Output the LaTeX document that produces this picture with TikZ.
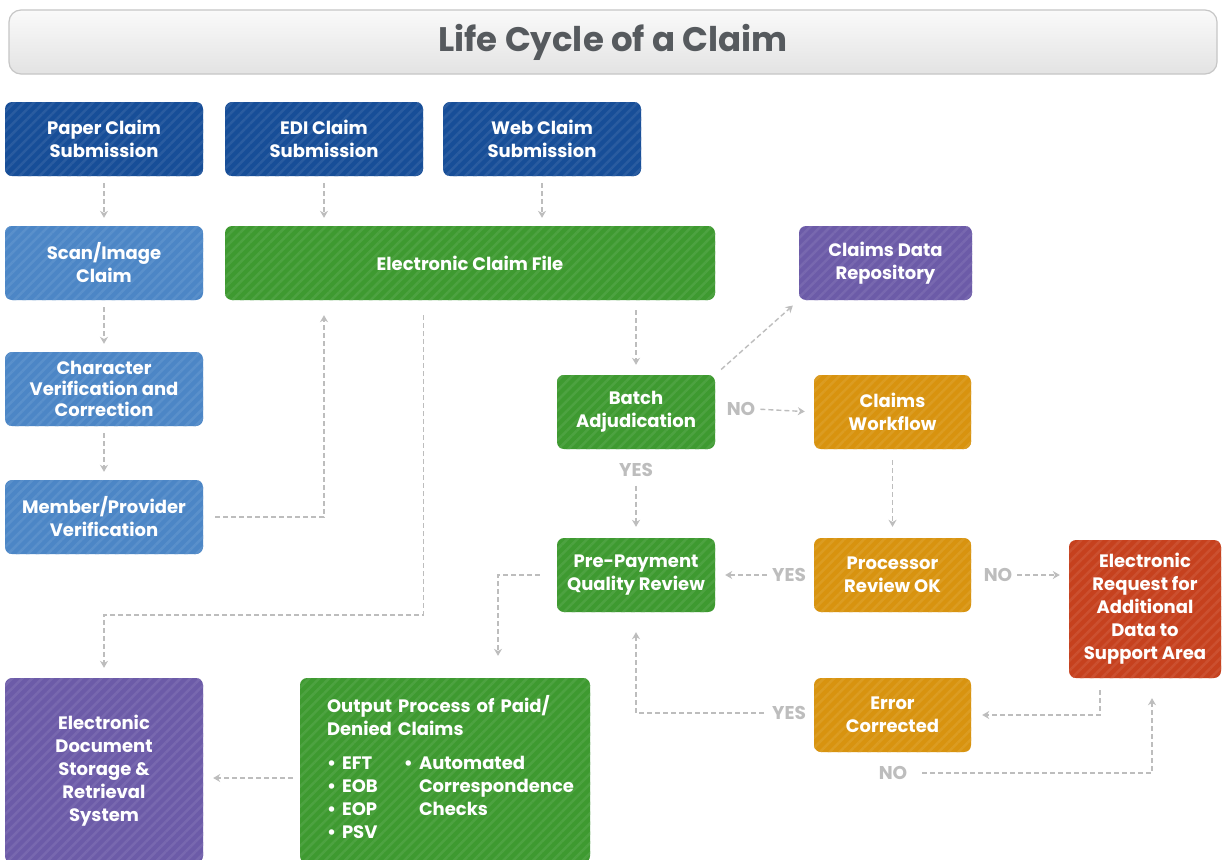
\documentclass[tikz,border=0pt]{standalone}
\usepackage{fontspec}
\setmainfont{Poppins}
\usetikzlibrary{arrows.meta,positioning,calc,patterns.meta}
\definecolor{dkblue}{HTML}{174E98}
\definecolor{ltblue}{HTML}{4C86C6}
\definecolor{grn}{HTML}{3E9A30}
\definecolor{prpl}{HTML}{6C5BA8}
\definecolor{orng}{HTML}{D8930F}
\definecolor{rd}{HTML}{C6411E}
\definecolor{ln}{HTML}{BDBDBD}
\definecolor{ttl}{HTML}{565A5E}
\tikzset{
  box/.style={rounded corners=7pt,text=white,align=center,inner sep=2pt,
    minimum width=198pt,minimum height=74pt,fill=#1,
    postaction={pattern={Lines[angle=45,distance=7pt,line width=2.5pt]},pattern color=#1!92!white}},
  dbox/.style={box=dkblue},
  lbox/.style={box=ltblue},
  gbox/.style={box=grn},
  pbox/.style={box=prpl},
  obox/.style={box=orng},
  rbox/.style={box=rd},
  lbl/.style={text=ln,inner sep=0pt,font=\bfseries\fontsize{18.5}{20}\selectfont},
  ar/.style={-{Stealth[length=7pt,width=8pt]},draw=ln,line width=1.4pt,
    dash pattern=on 5pt off 3pt,shorten <=7pt,shorten >=8pt},
  ttlbar/.style={rounded corners=12pt,draw=gray!45,line width=1.2pt,
    top color=gray!4,bottom color=gray!22,minimum width=1208pt,minimum height=64pt,
    text=ttl,font=\bfseries\fontsize{34}{40}\selectfont},
}
\begin{document}
\begin{tikzpicture}[x=1pt,y=-1pt,font=\bfseries\fontsize{18}{23}\selectfont]
\clip (0,0) rectangle (1225,859);
\fill[white] (0,0) rectangle (1225,859);
% title
\node[ttlbar] (title) at (613,42) {Life Cycle of a Claim};
% submissions
\node[dbox] (paper) at (104,139) {Paper Claim\\Submission};
\node[dbox] (edi) at (324,139) {EDI Claim\\Submission};
\node[dbox] (web) at (542,139) {Web Claim\\Submission};
% paper path
\node[lbox] (scan) at (104,263) {Scan/Image\\Claim};
\node[lbox,font=\bfseries\fontsize{18}{21}\selectfont] (cvc) at (104,389) {Character\\Verification and\\Correction};
\node[lbox] (member) at (104,517) {Member/Provider\\Verification};
% electronic path
\node[gbox,minimum width=490pt] (ecf) at (470,263) {Electronic Claim File};
\node[pbox,minimum width=173pt] (repo) at (885.5,263) {Claims Data\\Repository};
\node[gbox,minimum width=158pt] (batch) at (636,412) {Batch\\Adjudication};
\node[obox,minimum width=157pt] (flow) at (892.5,412) {Claims\\Workflow};
\node[gbox,minimum width=158pt] (qual) at (636,575) {Pre-Payment\\Quality Review};
\node[obox,minimum width=157pt] (proc) at (892.5,575) {Processor\\Review OK};
\node[rbox,minimum width=152pt,minimum height=138pt] (req) at (1145,609)
  {Electronic\\Request for\\Additional\\Data to\\Support Area};
\node[obox,minimum width=157pt] (err) at (892.5,715) {Error\\Corrected};
% output and storage
\node[pbox,minimum height=185pt] (store) at (104,770.5)
  {Electronic\\Document\\Storage \&\\Retrieval\\System};
\node[gbox,minimum height=185pt,text width=236pt,inner xsep=27pt,align=left] (out) at (445,770.5)
  {Output Process of Paid/\\Denied Claims\\[17pt]
   \begin{tabular}{@{}p{77pt}@{}l@{}}
   \textbullet{} EFT & \textbullet{} Automated\\
   \textbullet{} EOB & \hphantom{\textbullet{} }Correspondence\\
   \textbullet{} EOP & \hphantom{\textbullet{} }Checks\\
   \textbullet{} PSV &
   \end{tabular}};
% decision labels
\node[lbl] (no1) at (741,409) {NO};
\node[lbl] (yes1) at (636,470) {YES};
\node[lbl] (yes2) at (789,575) {YES};
\node[lbl] (no2) at (998,575) {NO};
\node[lbl] (yes3) at (789,713) {YES};
\node[lbl] (no3) at (893,773) {NO};
% connectors
\draw[ar] (paper) -- (scan);
\draw[ar] (scan) -- (cvc);
\draw[ar] (cvc) -- (member);
\draw[ar] (edi.south) -- (edi.south |- ecf.north);
\draw[ar] (web.south) -- (web.south |- ecf.north);
\draw[ar,shorten <=12pt,shorten >=15pt] (member.east) -| (edi.south |- ecf.south);
\coordinate (drop) at (0,615);
\draw[ar,shorten <=15pt,shorten >=10pt] (edi.east |- ecf.south) -- (edi.east |- drop) -| (store.north);
\draw[ar,shorten <=10pt,shorten >=10pt] (batch.north |- ecf.south) -- (batch.north);
\draw[ar,shorten <=8pt] (batch.north east) -- (repo.south west);
\draw[ar,shorten <=5pt,shorten >=9pt] (no1.east) -- (flow.west);
\draw[ar,shorten <=9pt,shorten >=11pt] (yes1.south) -- (qual.north);
\draw[ar,shorten <=11pt,shorten >=11pt] (flow) -- (proc);
\draw[ar,shorten <=5pt,shorten >=10pt] (yes2.west) -- (qual.east);
\draw[ar,shorten <=5pt,shorten >=9pt] (no2.east) -- (req.west |- no2.east);
\coordinate (q1) at ([xshift=53pt]out.north);
\draw[ar,shorten <=17pt,shorten >=22pt] (qual.west) -| (q1);
\draw[ar,shorten <=7pt,shorten >=10pt] ([yshift=-7.5pt]out.west) -- ([yshift=-7.5pt]out.west -| store.east);
\draw[ar,shorten <=12pt,shorten >=11pt] ([xshift=-45pt]req.south) |- (err.east);
\draw[ar,shorten <=8pt,shorten >=20pt] (yes3.west) -| (qual.south);
\draw[ar,shorten <=15pt,shorten >=20pt] (no3.east) -| ([xshift=7pt]req.south);
\end{tikzpicture}
\end{document}
